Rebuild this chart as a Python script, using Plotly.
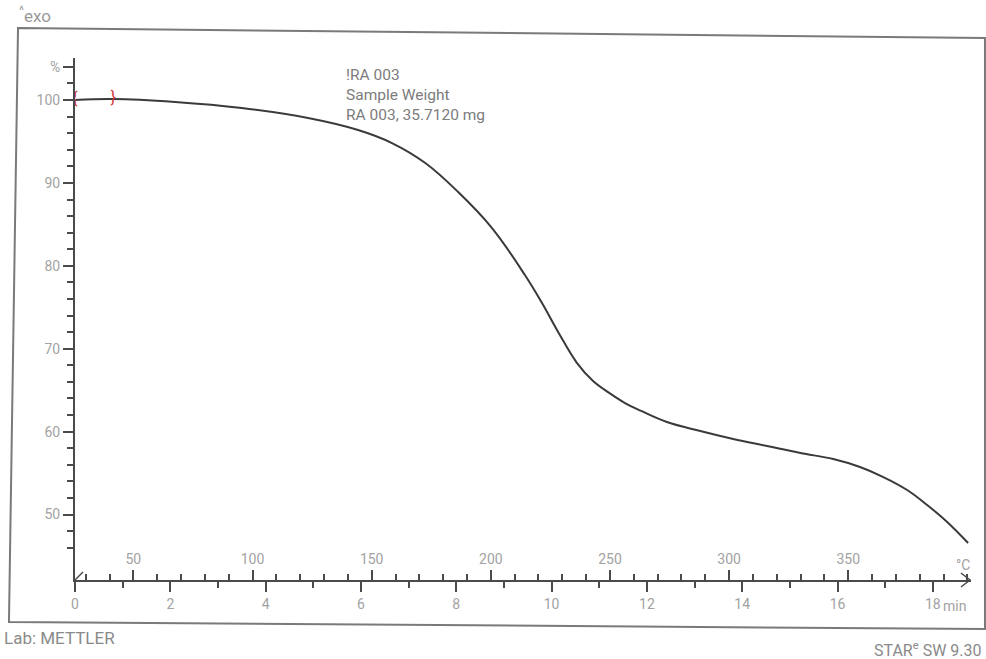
import plotly.graph_objects as go

# TGA run: sample weight (%) versus time (min), heating at 20 K/min
time_min = [0.0, 0.80, 2.10, 3.50, 4.89, 5.94, 6.65, 7.35, 8.04, 8.75, 9.44,
            9.79, 10.14, 10.53, 10.87, 11.20, 11.54, 11.88, 12.42, 13.12,
            13.81, 14.52, 15.22, 15.91, 16.47, 16.96, 17.46, 17.88, 18.30,
            18.74]
weight_pct = [100.0, 100.12, 99.76, 99.03, 97.83, 96.38, 94.81, 92.40, 88.90,
              84.56, 78.89, 75.60, 72.00, 68.30, 66.10, 64.70, 63.45, 62.50,
              61.16, 60.07, 59.11, 58.26, 57.42, 56.69, 55.73, 54.52, 52.96,
              51.15, 49.10, 46.56]

# evaluation limits of the sample-weight step
limit_time = [0.0, 0.80]
limit_weight = [100.0, 100.12]
limit_marks = ["{", "}"]

# axis scales
time_range = [0, 18.8]
temp_range = [25.5, 401.5]          # °C across the same span as time_range
weight_range = [42.1, 105.07]
time_ticks = [0, 2, 4, 6, 8, 10, 12, 14, 16, 18]
temp_ticks = [50, 100, 150, 200, 250, 300, 350]
weight_ticks = [50, 60, 70, 80, 90, 100, 104]
weight_ticktext = ["50", "60", "70", "80", "90", "100", "%"]

W, H = 986, 659
ML, MR, MT, MB = 75, 15, 58, 79
PW, PH = W - ML - MR, H - MT - MB


def px(x):
    return (x - ML) / PW


def py(y):
    return (H - MB - y) / PH


LABEL = "#a2a2a2"
INK = "#4a4a4a"
FONT = "Roboto, 'Open Sans', sans-serif"

fig = go.Figure()

fig.add_trace(go.Scatter(
    x=time_min, y=weight_pct, mode="lines",
    line=dict(color="#3a3a3a", width=2, shape="spline", smoothing=1.1),
    hoverinfo="skip", showlegend=False,
))

fig.add_trace(go.Scatter(
    x=limit_time, y=limit_weight, mode="text", text=limit_marks,
    textfont=dict(color="#d0343c", size=16, family=FONT),
    textposition="middle center", hoverinfo="skip", showlegend=False,
))

# temperature scale shares the bottom line
fig.add_trace(go.Scatter(
    x=temp_range, y=[None, None], xaxis="x2", mode="lines",
    hoverinfo="skip", showlegend=False,
))

fig.update_layout(
    width=W, height=H,
    margin=dict(l=ML, r=MR, t=MT, b=MB),
    paper_bgcolor="white", plot_bgcolor="white",
    font=dict(family=FONT, color=LABEL),
    xaxis=dict(
        range=time_range, tickvals=time_ticks,
        ticks="outside", ticklen=10, tickwidth=1.5, tickcolor=INK,
        minor=dict(dtick=1, ticklen=6, tickwidth=1.5, tickcolor=INK, ticks="outside"),
        tickfont=dict(size=14, color=LABEL, family=FONT),
        showline=True, linecolor=INK, linewidth=2,
        showgrid=False, zeroline=False, fixedrange=True,
    ),
    xaxis2=dict(
        range=temp_range, overlaying="x", anchor="y", side="bottom",
        tickvals=temp_ticks,
        ticks="inside", ticklen=10, tickwidth=1.5, tickcolor=INK,
        minor=dict(dtick=10, tick0=0, ticklen=6, tickwidth=1.5, tickcolor=INK, ticks="inside"),
        ticklabelposition="inside", ticklabelstandoff=3,
        tickfont=dict(size=14, color=LABEL, family=FONT),
        showline=False, showgrid=False, zeroline=False, fixedrange=True,
    ),
    yaxis=dict(
        range=weight_range, tickvals=weight_ticks, ticktext=weight_ticktext,
        ticks="outside", ticklen=10, tickwidth=1.5, tickcolor=INK,
        minor=dict(dtick=2, tick0=0, ticklen=6, tickwidth=1.5, tickcolor=INK, ticks="outside"),
        tickfont=dict(size=14, color=LABEL, family=FONT),
        showline=True, linecolor=INK, linewidth=2,
        showgrid=False, zeroline=False, fixedrange=True,
    ),
)

# outer frame of the printout (slightly skewed sheet)
frame = [(18, 28), (985, 38), (985, 629), (9, 622)]
path = "M " + " L ".join(f"{px(a):.4f},{py(b):.4f}" for a, b in frame) + " Z"
fig.add_shape(type="path", path=path, xref="paper", yref="paper",
              line=dict(color="#7a7a7a", width=2))

# arrow head at the end of the abscissa and the origin mark
arrow = [(961, 573), (970, 580), (961, 587)]
fig.add_shape(type="path", xref="paper", yref="paper",
              path="M " + " L ".join(f"{px(a):.4f},{py(b):.4f}" for a, b in arrow),
              line=dict(color=INK, width=1.5))
fig.add_shape(type="line", xref="paper", yref="paper",
              x0=px(75), y0=py(580), x1=px(83), y1=py(572),
              line=dict(color=INK, width=1.5))

notes = [
    dict(text="<sup>^</sup>exo", x=px(17), y=py(15), xanchor="left", yanchor="middle",
         font=dict(size=17, color="#9a9a9a")),
    dict(text="!RA 003<br>Sample Weight<br>RA 003, 35.7120 mg", x=px(344), y=py(64),
         xanchor="left", yanchor="top", align="left",
         font=dict(size=15.5, color="#7c7c7c")),
    dict(text="°C", x=px(963), y=py(565), xanchor="center", yanchor="middle",
         font=dict(size=14, color=LABEL)),
    dict(text="min", x=px(941), y=py(606), xanchor="left", yanchor="middle",
         font=dict(size=14, color=LABEL)),
    dict(text="Lab: METTLER", x=px(2), y=py(638), xanchor="left", yanchor="middle",
         font=dict(size=17, color="#8a8a8a")),
    dict(text="STAR<sup>e</sup> SW 9.30", x=px(984), y=py(649), xanchor="right",
         yanchor="middle", font=dict(size=16, color="#8a8a8a")),
]
for n in notes:
    fig.add_annotation(xref="paper", yref="paper", showarrow=False, **n)

fig.write_html("out.html")
